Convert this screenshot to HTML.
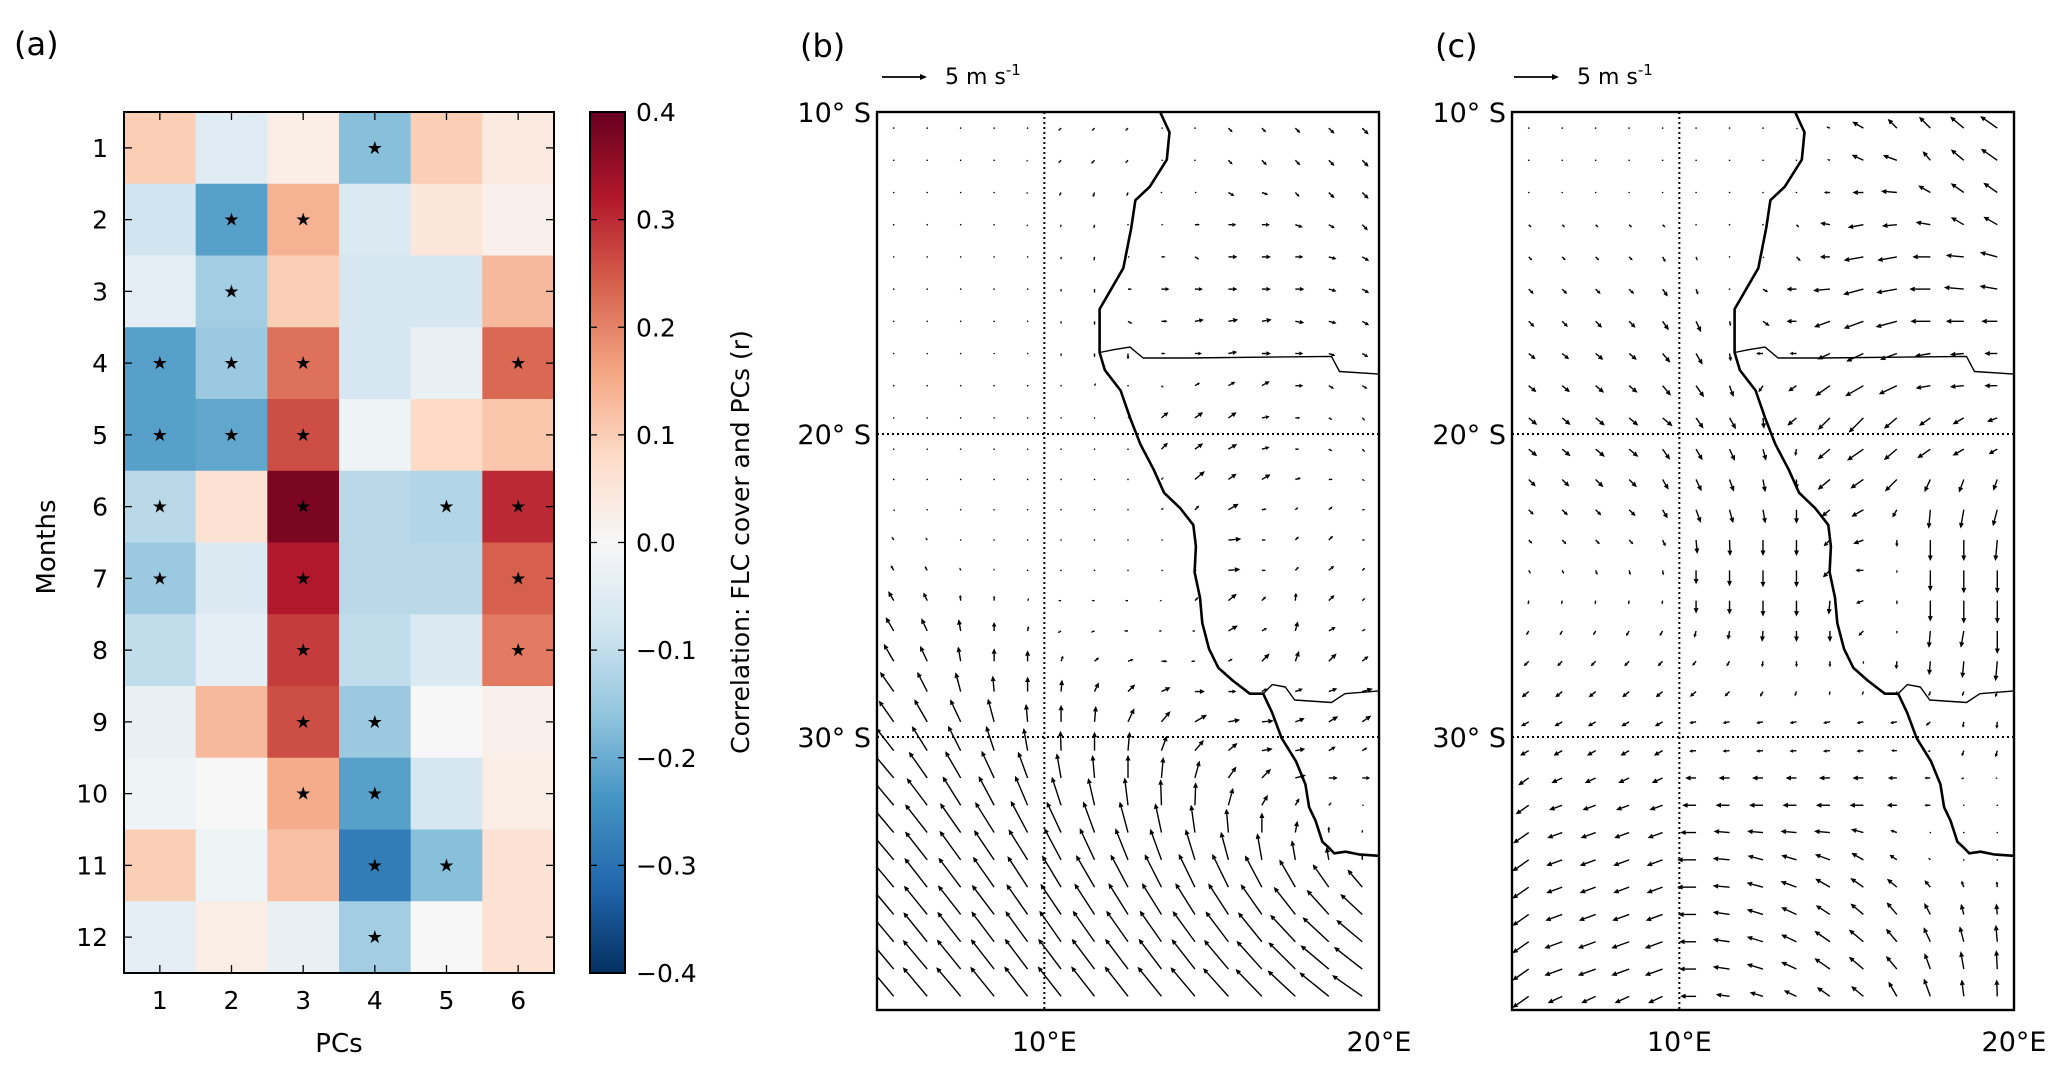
<!DOCTYPE html>
<html><head><meta charset="utf-8"><style>
html,body{margin:0;padding:0;background:#fff;}
svg{display:block;font-family:"DejaVu Sans","Liberation Sans",sans-serif;}
</style></head><body>
<svg id="fig" width="2067" height="1072" viewBox="0 0 2067 1072" xmlns="http://www.w3.org/2000/svg">
<defs>
<clipPath id="clipB"><rect x="877" y="112" width="502" height="898"/></clipPath>
<clipPath id="clipC"><rect x="1512" y="112" width="502" height="898"/></clipPath>
<linearGradient id="cbgrad" x1="0" y1="1" x2="0" y2="0">
<stop offset="0" stop-color="#053061"/><stop offset="0.1" stop-color="#2166ac"/><stop offset="0.2" stop-color="#4393c3"/><stop offset="0.3" stop-color="#92c5de"/><stop offset="0.4" stop-color="#d1e5f0"/><stop offset="0.5" stop-color="#f7f7f7"/><stop offset="0.6" stop-color="#fddbc7"/><stop offset="0.7" stop-color="#f4a582"/><stop offset="0.8" stop-color="#d6604d"/><stop offset="0.9" stop-color="#b2182b"/><stop offset="1" stop-color="#67001f"/>
</linearGradient>
</defs>
<g id="panelA"></g>
<g id="panelB"></g>
<g id="panelC"></g>
</svg>
<script>
// ---------- Panel (a) data ----------
const MONTHS = [1,2,3,4,5,6,7,8,9,10,11,12];
const PCS = [1,2,3,4,5,6];
const CORR = [
 [0.10,-0.05,0.03,-0.17,0.10,0.04],
 [-0.08,-0.22,0.14,-0.06,0.05,0.02],
 [-0.04,-0.14,0.10,-0.07,-0.07,0.13],
 [-0.22,-0.15,0.22,-0.07,-0.03,0.23],
 [-0.22,-0.21,0.26,-0.02,0.08,0.11],
 [-0.11,0.06,0.38,-0.11,-0.12,0.30],
 [-0.15,-0.06,0.32,-0.11,-0.11,0.24],
 [-0.10,-0.04,0.28,-0.10,-0.06,0.21],
 [-0.03,0.13,0.26,-0.15,0.00,0.02],
 [-0.02,0.00,0.15,-0.22,-0.07,0.03],
 [0.10,-0.02,0.12,-0.28,-0.17,0.06],
 [-0.04,0.03,-0.03,-0.14,0.00,0.06]
];
const SIG = [
 [0,0,0,1,0,0],[0,1,1,0,0,0],[0,1,0,0,0,0],[1,1,1,0,0,1],[1,1,1,0,0,0],[1,0,1,0,1,1],
 [1,0,1,0,0,1],[0,0,1,0,0,1],[0,0,1,1,0,0],[0,0,1,1,0,0],[0,0,0,1,1,0],[0,0,0,1,0,0]
];
const CB_TICKS = [0.4,0.3,0.2,0.1,0.0,-0.1,-0.2,-0.3,-0.4];
const CB_LABELS = ["0.4","0.3","0.2","0.1","0.0","\u22120.1","\u22120.2","\u22120.3","\u22120.4"];

// ---------- Panels (b),(c) wind data: direction (deg, 0=E, 90=N) and speed (m/s) ----------
const GRID_LON = [5.5,6.5,7.5,8.5,9.5,10.5,11.5,12.5,13.5,14.5,15.5,16.5,17.5,18.5,19.5];
const GRID_LAT = [10.5,11.5,12.5,13.5,14.5,15.5,16.5,17.5,18.5,19.5,20.5,21.5,22.5,23.5,24.5,25.5,26.5,27.5,28.5,29.5,30.5,31.5,32.5,33.5,34.5,35.5,36.5,37.5,38.5,39.5];
const B_DIR = [
[225,225,225,225,225,225,225,225,0,0,315,315,315,315,315],
[225,225,225,225,225,225,225,225,0,0,315,315,315,315,315],
[225,225,225,225,225,240,250,250,0,0,330,340,315,315,315],
[0,0,0,0,250,260,260,0,0,0,0,0,340,330,315],
[0,0,0,0,0,270,260,0,0,330,0,0,0,345,330],
[0,0,0,0,0,270,270,0,0,0,0,0,0,345,330],
[0,0,0,0,0,270,270,330,0,10,10,10,350,345,330],
[0,0,0,0,0,270,270,270,0,0,10,0,0,340,330],
[0,0,0,0,0,0,60,0,315,30,30,30,0,330,330],
[0,0,0,0,0,0,0,45,40,35,35,10,0,330,315],
[0,0,0,0,0,0,0,0,45,35,30,15,0,330,315],
[0,0,0,0,0,0,0,0,45,40,35,30,15,0,330],
[315,0,0,0,0,0,0,0,45,45,30,10,40,40,0],
[120,125,0,0,0,0,0,0,0,0,5,0,45,45,0],
[120,120,110,100,0,0,0,0,0,0,5,0,45,40,40],
[120,115,95,90,60,180,180,180,180,45,40,45,85,45,40],
[120,115,100,90,80,210,200,180,180,180,30,30,75,30,30],
[120,115,100,90,90,70,40,20,0,180,30,45,70,45,40],
[125,117,105,95,90,85,65,45,25,0,0,30,20,20,15],
[125,120,115,105,95,90,85,65,50,30,10,5,20,30,35],
[128,122,117,108,100,92,90,85,70,50,40,10,10,30,30],
[130,125,120,115,110,100,95,90,85,75,55,45,15,0,0],
[130,127,122,118,113,108,103,97,92,88,75,60,60,45,0],
[130,128,125,122,118,115,110,105,102,98,95,90,80,90,90],
[130,128,126,124,122,118,115,112,110,107,105,100,100,100,90],
[130,128,127,125,123,121,120,118,117,116,116,118,120,125,130],
[130,129,128,127,125,124,123,122,122,122,123,125,128,132,137],
[130,129,128,127,126,125,125,125,125,126,127,129,133,137,140],
[130,130,129,128,127,127,127,127,127,128,130,132,135,140,142],
[130,130,130,129,128,128,128,128,129,130,132,134,137,141,145]
];
const B_SPD = [
[0.1,0.1,0.1,0.1,0.1,0.4,0.4,0.4,0.2,0.1,0.6,0.6,0.7,0.8,0.9],
[0.1,0.1,0.1,0.1,0.2,0.4,0.5,0.4,0.2,0.1,0.6,0.7,0.7,0.8,0.9],
[0.1,0.1,0.1,0.1,0.2,0.4,0.5,0.4,0.1,0.2,0.7,0.7,0.6,0.8,0.9],
[0.1,0.1,0.1,0.1,0.2,0.3,0.4,0.1,0.2,0.5,0.8,0.8,0.8,0.7,0.8],
[0.1,0.1,0.1,0.1,0.1,0.3,0.4,0.2,0.4,0.5,0.9,0.9,0.8,0.8,0.8],
[0.1,0.1,0.1,0.1,0.1,0.3,0.4,0.4,0.8,0.8,0.9,0.9,0.9,0.8,0.8],
[0.1,0.1,0.1,0.1,0.1,0.3,0.4,0.5,0.6,0.9,1.0,1.0,0.9,0.8,0.8],
[0.1,0.1,0.1,0.1,0.1,0.3,0.4,0.6,0.4,0.7,0.9,0.9,0.8,0.7,0.7],
[0.1,0.1,0.1,0.1,0.1,0.1,0.3,0.1,0.3,0.6,0.8,0.9,0.8,0.6,0.6],
[0.1,0.1,0.1,0.1,0.1,0.1,0.1,0.4,0.9,1.0,1.0,0.8,0.5,0.4,0.4],
[0.1,0.1,0.1,0.1,0.1,0.1,0.1,0.1,0.9,1.0,1.0,0.8,0.4,0.4,0.4],
[0.1,0.1,0.1,0.1,0.1,0.1,0.1,0.1,0.3,1.3,1.0,1.0,0.6,0.4,0.3],
[0.2,0.1,0.1,0.1,0.1,0.1,0.1,0.1,0.3,0.6,1.2,0.5,0.4,0.5,0.3],
[0.4,0.3,0.1,0.1,0.1,0.1,0.1,0.1,0.2,0.2,1.3,0.4,0.5,0.6,0.3],
[0.6,0.5,0.3,0.2,0.1,0.1,0.1,0.1,0.2,0.2,1.2,0.4,0.5,0.7,0.4],
[1.1,0.9,0.6,0.5,0.3,0.3,0.3,0.3,0.2,0.5,1.1,0.6,0.8,0.8,0.4],
[1.6,1.4,1.2,0.9,0.5,0.4,0.4,0.4,0.3,0.3,1.1,0.6,1.0,0.8,0.4],
[2.0,1.7,1.5,1.3,1.1,0.6,0.6,0.6,0.6,0.4,0.5,1.1,1.1,1.1,0.8],
[2.4,2.2,2.0,1.6,1.5,1.2,1.0,1.0,1.0,1.0,0.8,0.6,0.8,0.9,1.1],
[2.6,2.6,2.5,2.4,1.8,1.7,1.6,1.5,1.4,1.4,1.2,1.2,1.0,1.1,1.1],
[2.9,2.9,2.8,2.6,2.3,2.0,1.9,1.9,1.6,1.4,1.2,1.1,1.0,0.8,0.6],
[3.2,3.2,3.1,3.0,2.8,2.5,2.3,2.3,2.1,1.8,1.4,1.3,1.1,0.9,0.8],
[3.4,3.4,3.4,3.3,3.2,3.0,2.8,2.8,2.6,2.3,1.8,1.2,0.8,0.4,0.2],
[3.6,3.6,3.6,3.6,3.6,3.4,3.3,3.2,3.0,2.8,2.4,2.0,1.2,0.6,0.3],
[3.6,3.6,3.6,3.6,3.6,3.6,3.5,3.4,3.3,3.2,2.9,2.7,2.0,1.3,0.5],
[3.7,3.7,3.7,3.7,3.7,3.7,3.7,3.7,3.7,3.7,3.7,3.6,3.2,2.8,2.3],
[3.7,3.7,3.7,3.7,3.7,3.7,3.7,3.7,3.7,3.7,3.7,3.7,3.5,3.3,3.0],
[3.8,3.8,3.8,3.8,3.8,3.8,3.8,3.8,3.8,3.8,3.8,3.8,3.7,3.6,3.4],
[3.8,3.8,3.8,3.8,3.8,3.8,3.8,3.8,3.8,3.8,3.8,3.8,3.8,3.7,3.6],
[3.8,3.8,3.8,3.8,3.8,3.8,3.8,3.8,3.8,3.8,3.8,3.8,3.8,3.8,3.7]
];
const C_DIR = [
[315,315,315,315,315,315,315,315,315,160,150,135,135,140,145],
[315,315,315,315,315,315,315,315,315,160,155,160,130,140,145],
[315,315,315,315,315,315,315,315,315,180,180,175,150,145,145],
[315,315,315,315,315,315,315,315,315,170,190,185,170,150,150],
[315,315,315,315,300,290,315,315,315,180,190,190,180,175,165],
[315,315,315,315,305,290,315,330,180,185,195,190,180,175,170],
[315,315,315,315,305,295,285,325,180,200,200,195,180,180,180],
[320,320,320,320,310,300,280,180,180,205,205,200,190,185,180],
[320,320,320,320,310,305,290,235,215,215,210,205,190,185,180],
[320,320,320,320,320,305,300,275,220,225,225,220,215,210,200],
[320,320,320,320,305,300,295,285,260,220,215,220,215,210,210],
[315,315,315,315,300,295,290,280,270,220,215,225,245,250,250],
[315,315,315,315,300,290,285,280,270,220,210,240,265,260,255],
[315,315,315,315,295,275,272,270,270,225,200,270,270,270,265],
[300,295,290,285,280,270,270,270,270,225,180,270,270,270,270],
[260,260,260,260,260,270,270,270,270,265,200,270,270,270,270],
[240,240,240,240,240,255,260,265,270,270,225,270,265,260,270],
[225,225,225,225,225,230,240,260,270,270,270,265,265,265,265],
[220,220,220,220,220,220,225,240,250,260,250,260,250,250,250],
[210,210,210,210,210,190,190,190,190,190,190,190,220,260,265],
[210,210,210,210,210,185,185,185,185,185,185,180,200,250,255],
[215,205,205,205,205,180,180,180,180,180,180,180,180,200,200],
[215,200,200,200,200,180,180,180,180,180,180,180,180,0,0],
[215,200,200,200,200,180,175,175,175,175,165,160,0,0,0],
[215,200,200,200,200,180,175,165,163,160,150,145,135,0,0],
[215,200,200,200,200,180,175,165,160,150,145,140,130,110,95],
[215,200,200,200,200,180,172,163,155,147,140,130,118,105,95],
[215,200,200,200,200,180,172,163,155,145,140,130,115,105,95],
[215,200,200,200,200,180,172,163,155,145,140,130,110,100,93],
[215,205,205,205,205,180,172,163,155,145,140,120,110,97,92]
];
const C_SPD = [
[0.1,0.1,0.1,0.1,0.1,0.1,0.1,0.1,0.2,0.4,1.3,1.3,1.6,1.8,2.1],
[0.15,0.15,0.15,0.15,0.1,0.1,0.1,0.1,0.1,0.3,1.3,1.5,1.2,1.7,2.0],
[0.15,0.15,0.15,0.15,0.15,0.15,0.15,0.15,0.15,0.6,1.1,1.6,1.4,1.6,1.7],
[0.4,0.4,0.4,0.4,0.4,0.15,0.15,0.15,0.4,1.0,1.6,1.5,1.5,1.5,1.6],
[0.5,0.5,0.5,0.5,0.6,0.4,0.1,0.2,0.6,1.0,2.0,2.0,1.8,1.8,1.8],
[0.7,0.7,0.7,0.7,0.9,0.6,0.1,0.6,1.0,1.7,2.1,2.1,2.1,2.0,1.8],
[0.8,0.8,0.9,0.9,1.1,1.2,0.5,0.8,1.0,1.7,2.1,2.2,2.0,1.8,1.6],
[0.9,0.9,1.0,1.0,1.2,1.3,0.8,0.7,0.7,1.4,1.9,1.8,1.6,1.4,1.3],
[1.0,1.0,1.1,1.1,1.3,1.4,1.2,0.8,1.0,1.8,2.1,2.0,1.5,1.4,1.3],
[1.1,1.1,1.2,1.2,1.3,1.3,1.3,1.1,1.2,1.7,2.1,1.7,1.4,1.3,1.1],
[1.1,1.1,1.2,1.2,1.3,1.3,1.3,1.2,0.7,1.6,2.0,1.7,1.6,1.3,1.0],
[1.0,1.0,1.1,1.1,1.2,1.3,1.3,1.3,1.0,1.6,1.6,1.7,1.4,1.4,1.2],
[0.7,0.8,0.8,0.9,1.0,1.4,1.4,1.4,1.4,1.1,1.4,0.9,1.9,1.9,1.7],
[0.5,0.6,0.6,0.6,0.7,1.4,1.6,1.6,1.6,0.9,1.1,0.7,2.1,2.1,2.1],
[0.4,0.4,0.5,0.5,0.5,1.4,1.6,1.7,1.7,1.0,0.8,0.3,2.1,2.3,2.3],
[0.4,0.4,0.4,0.4,0.4,1.3,1.4,1.6,1.6,1.4,0.8,0.4,2.1,2.3,2.3],
[0.5,0.5,0.5,0.6,0.6,0.7,0.9,1.1,1.1,1.1,0.7,0.3,1.7,1.7,2.3],
[0.7,0.7,0.7,0.7,0.7,0.6,0.6,0.6,0.6,0.6,0.3,0.8,1.4,1.7,2.0],
[0.9,0.9,0.9,0.9,0.9,0.8,0.7,0.6,0.5,0.4,0.4,0.4,0.5,0.5,0.6],
[0.9,0.9,0.9,0.9,0.9,0.7,0.7,0.7,0.7,0.7,0.7,0.7,0.6,0.6,0.7],
[1.0,1.0,1.0,1.0,1.0,0.7,0.7,0.7,0.7,0.7,0.7,0.6,0.3,0.6,0.7],
[1.3,1.2,1.2,1.2,1.2,1.1,1.1,1.1,1.1,1.1,1.1,0.9,0.6,0.3,0.2],
[1.6,1.4,1.4,1.4,1.4,1.4,1.4,1.4,1.4,1.4,1.4,1.0,0.6,0.1,0.1],
[1.9,1.6,1.6,1.6,1.6,1.6,1.6,1.6,1.6,1.6,1.3,0.7,0.1,0.1,0.1],
[2.0,1.7,1.7,1.7,1.7,1.9,1.7,1.6,1.6,1.6,1.4,0.9,0.3,0.1,0.1],
[2.0,1.7,1.7,1.7,1.7,1.9,1.7,1.7,1.7,1.7,1.6,1.3,0.9,0.7,0.6],
[2.0,1.8,1.8,1.8,1.8,1.8,1.7,1.7,1.7,1.7,1.7,1.6,1.3,1.1,1.1],
[2.0,1.9,1.9,1.9,1.9,1.7,1.7,1.7,1.7,1.9,1.9,1.7,1.6,1.6,1.7],
[2.0,1.9,1.9,1.9,1.9,1.7,1.7,1.7,1.7,1.9,1.9,1.7,1.7,1.8,1.9],
[2.0,1.6,1.6,1.6,1.6,1.6,1.4,1.4,1.4,1.6,1.6,1.7,1.9,1.7,1.7]
];
const REF_SPEED = 5;
// coastline / borders (lon E, lat S)
const COAST_LON = [13.46,13.74,13.66,13.15,12.72,12.60,12.36,11.65,11.65,11.81,12.28,12.56,12.87,13.27,13.58,14.06,14.45,14.53,14.49,14.65,14.72,14.92,15.20,15.63,16.14,16.54,16.81,17.09,17.52,17.80,17.91,18.11,18.31,18.50,18.66,19.0,19.4,20.0];
const COAST_LAT = [10.0,10.63,11.48,12.32,12.74,13.59,14.85,16.12,17.47,18.02,18.65,19.49,20.34,21.18,21.94,22.45,23.0,23.71,24.56,25.40,26.24,27.09,27.72,28.14,28.57,28.57,29.20,30.04,30.89,31.73,32.57,33.08,33.84,34.05,34.26,34.20,34.30,34.35];
const BORDER1_LON = [11.65,12.09,12.56,12.95,14.25,18.58,18.82,20.0];
const BORDER1_LAT = [17.47,17.38,17.30,17.64,17.64,17.59,18.06,18.14];
const BORDER2_LON = [16.54,16.81,17.20,17.48,18.58,18.98,20.0];
const BORDER2_LAT = [28.57,28.27,28.35,28.78,28.86,28.57,28.48];

const NS = "http://www.w3.org/2000/svg";
function mk(tag, attrs, parent, text){
  const e = document.createElementNS(NS, tag);
  for (const k in attrs) e.setAttribute(k, attrs[k]);
  if (text !== undefined) e.textContent = text;
  parent.appendChild(e);
  return e;
}
const CMAP = ["#053061","#2166ac","#4393c3","#92c5de","#d1e5f0","#f7f7f7","#fddbc7","#f4a582","#d6604d","#b2182b","#67001f"];
function hex(h){return [parseInt(h.substr(1,2),16),parseInt(h.substr(3,2),16),parseInt(h.substr(5,2),16)];}
function color(v){
  let t = (v + 0.4) / 0.8; t = Math.max(0, Math.min(1, t));
  const p = t * 10, i = Math.min(9, Math.floor(p)), f = p - i;
  const a = hex(CMAP[i]), b = hex(CMAP[i+1]);
  return "rgb(" + a.map((c,k)=>Math.round(c + (b[k]-c)*f)).join(",") + ")";
}

// ---------- Panel (a) ----------
(function(){
  const g = document.getElementById("panelA");
  const X0 = 124, X1 = 554, Y0 = 112, Y1 = 973;
  const cw = (X1 - X0) / PCS.length, ch = (Y1 - Y0) / MONTHS.length;
  const xc = j => X0 + (j + 0.5) * cw, yc = i => Y0 + (i + 0.5) * ch;
  const lab = mk("text", {x:14, y:55, "font-size":32}, g, "(a)");
  
  
  CORR.forEach((row, i) => row.forEach((v, j) => {
    const r = mk("rect", {x:X0 + j*cw, y:Y0 + i*ch, width:cw + 0.6, height:ch + 0.6, fill:color(v)}, g);
    
    
    if (SIG[i][j]) {
      const s = mk("text", {x:xc(j), y:yc(i) + 6, "font-size":18, "text-anchor":"middle", fill:"#000"}, g, "\u2605");
      
      
    }
  }));
  const fr = mk("rect", {x:X0, y:Y0, width:X1-X0, height:Y1-Y0, fill:"none", stroke:"#000", "stroke-width":2}, g);
  
  
  MONTHS.forEach((m, i) => {
    const y = yc(i);
    mk("line", {x1:X0, y1:y, x2:X0+8, y2:y, stroke:"#000", "stroke-width":1.3}, g);
    mk("line", {x1:X1, y1:y, x2:X1-8, y2:y, stroke:"#000", "stroke-width":1.3}, g);
    const t = mk("text", {x:108, y:y + 9, "font-size":25, "text-anchor":"end"}, g, String(m));
    
    
  });
  PCS.forEach((p, j) => {
    const x = xc(j);
    mk("line", {x1:x, y1:Y0, x2:x, y2:Y0+8, stroke:"#000", "stroke-width":1.3}, g);
    mk("line", {x1:x, y1:Y1, x2:x, y2:Y1-8, stroke:"#000", "stroke-width":1.3}, g);
    const t = mk("text", {x:x, y:1009, "font-size":25, "text-anchor":"middle"}, g, String(p));
    
    
  });
  const xl = mk("text", {x:339, y:1052, "font-size":26, "text-anchor":"middle"}, g, "PCs");
  
  
  const yl = mk("text", {x:0, y:0, "font-size":26, "text-anchor":"middle", transform:"translate(55,547) rotate(-90)"}, g, "Months");
  
  
  const CX0 = 590, CX1 = 625;
  const cb = mk("rect", {x:CX0, y:Y0, width:CX1-CX0, height:Y1-Y0, fill:"url(#cbgrad)", stroke:"#000", "stroke-width":2}, g);
  
  
  const cy = v => Y1 - (v + 0.4) / 0.8 * (Y1 - Y0);
  CB_TICKS.forEach((v, k) => {
    const y = cy(v);
    mk("line", {x1:CX1, y1:y, x2:CX1-7, y2:y, stroke:"#000", "stroke-width":1.3}, g);
    mk("line", {x1:CX0, y1:y, x2:CX0+7, y2:y, stroke:"#000", "stroke-width":1.3}, g);
    const t = mk("text", {x:636, y:y + 9, "font-size":25}, g, CB_LABELS[k]);
    
    
  });
  const ct = mk("text", {x:0, y:0, "font-size":25, "text-anchor":"middle", transform:"translate(749,542) rotate(-90)"}, g, "Correlation: FLC cover and PCs (r)");
  
  
})();

// ---------- Map panels ----------
const LAT_K = [10, 20, 30, 40], LAT_Y = [112, 434, 737, 1010];
function latY(lat){
  for (let k = 0; k < 3; k++) if (lat <= LAT_K[k+1] || k === 2)
    return LAT_Y[k] + (lat - LAT_K[k]) / (LAT_K[k+1] - LAT_K[k]) * (LAT_Y[k+1] - LAT_Y[k]);
}
const PX_PER_MS = 10;
function drawMap(gid, X0, label, DIR, SPD, clip, refX){
  const g = document.getElementById(gid);
  const X1 = X0 + 502, Y0 = 112, Y1 = 1010;
  const lonX = lon => X0 + (lon - 5) / 15 * (X1 - X0);
  const pl = mk("text", {x:X0 - 77, y:57, "font-size":32}, g, label);
  
  
  const ra = mk("g", {}, g);
  
  
  const rl = 45;
  mk("line", {x1:refX, y1:77, x2:refX + rl - 6, y2:77, stroke:"#000", "stroke-width":1.8}, ra);
  mk("polygon", {points:(refX+rl)+",77 "+(refX+rl-7)+",74 "+(refX+rl-7)+",80", fill:"#000"}, ra);
  const rt = mk("text", {x:refX + rl + 18, y:84, "font-size":22}, g);
  
  
  rt.innerHTML = '5 m s<tspan dy="-9" font-size="15">-1</tspan>';
  const gl = mk("g", {stroke:"#000", "stroke-width":2, "stroke-dasharray":"2,3", fill:"none"}, g);
  
  
  mk("line", {x1:lonX(10), y1:Y0, x2:lonX(10), y2:Y1}, gl);
  mk("line", {x1:X0, y1:latY(20), x2:X1, y2:latY(20)}, gl);
  mk("line", {x1:X0, y1:latY(30), x2:X1, y2:latY(30)}, gl);
  const cg = mk("g", {"clip-path":"url(#"+clip+")", fill:"none", stroke:"#000", "stroke-linejoin":"round"}, g);
  const pts = (L, A) => L.map((lo, k) => lonX(lo).toFixed(1) + "," + latY(A[k]).toFixed(1)).join(" ");
  const co = mk("polyline", {points:pts(COAST_LON, COAST_LAT), "stroke-width":2.6}, cg);
  
  
  const b1 = mk("polyline", {points:pts(BORDER1_LON, BORDER1_LAT), "stroke-width":1.4}, cg);
  
  
  const b2 = mk("polyline", {points:pts(BORDER2_LON, BORDER2_LAT), "stroke-width":1.4}, cg);
  
  
  const qg = mk("g", {"clip-path":"url(#"+clip+")"}, g);
  
  
  GRID_LAT.forEach((lat, i) => GRID_LON.forEach((lon, j) => {
    const x = lonX(lon), y = latY(lat);
    const L = SPD[i][j] * PX_PER_MS, a = DIR[i][j] * Math.PI / 180;
    const ux = Math.cos(a), uy = -Math.sin(a);
    let el;
    if (L < 2) {
      el = mk("circle", {cx:x, cy:y, r:0.8, fill:"#000"}, qg);
    } else {
      const hl = Math.min(5.5, L * 0.5), hw = Math.min(2.5, L * 0.25);
      const tx = x + ux * L, ty = y + uy * L;
      const bx = tx - ux * hl, by = ty - uy * hl;
      el = mk("g", {}, qg);
      mk("line", {x1:x, y1:y, x2:bx, y2:by, stroke:"#000", "stroke-width":1.4}, el);
      mk("polygon", {points:tx.toFixed(1)+","+ty.toFixed(1)+" "+(bx - uy*hw).toFixed(1)+","+(by + ux*hw).toFixed(1)+" "+(bx + uy*hw).toFixed(1)+","+(by - ux*hw).toFixed(1), fill:"#000"}, el);
    }
    
    
  }));
  const fr = mk("rect", {x:X0, y:Y0, width:X1-X0, height:Y1-Y0, fill:"none", stroke:"#000", "stroke-width":2.4}, g);
  
  
  [[10,"10\u00b0 S"],[20,"20\u00b0 S"],[30,"30\u00b0 S"]].forEach(([lat, s]) => {
    const t = mk("text", {x:X0 - 6, y:latY(lat) + 10, "font-size":27, "text-anchor":"end"}, g, s);
    
    
  });
  [[10,"10\u00b0E"],[20,"20\u00b0E"]].forEach(([lon, s]) => {
    const t = mk("text", {x:lonX(lon), y:1051, "font-size":27, "text-anchor":"middle"}, g, s);
    
    
  });
}
drawMap("panelB", 877, "(b)", B_DIR, B_SPD, "clipB", 882);
drawMap("panelC", 1512, "(c)", C_DIR, C_SPD, "clipC", 1514);
</script>
</body></html>
